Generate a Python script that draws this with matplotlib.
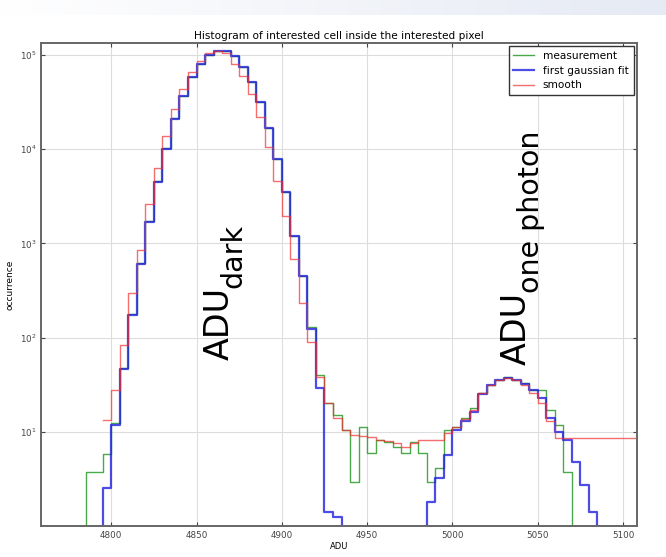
import numpy as np
import matplotlib
matplotlib.use("Agg")
import matplotlib.pyplot as plt

plt.rcParams["mathtext.fontset"] = "dejavusans"

# bin edges of the ADU histogram (5 ADU wide)
adu_edges = np.arange(4780, 5115, 5)

# counts per bin
measurement = [0, 3.75, 3.75, 5.8, 12.5, 48, 180, 620, 1750, 4600,
               10200, 21500, 37000, 59000, 80000, 100000, 110000, 112000, 98000, 74000,
               51500, 32000, 17000, 7800, 3500, 1200, 450, 130, 40, 20,
               15, 10.5, 2.9, 11.3, 6, 8.2, 7.7, 6.8, 6, 7.8,
               6, 2.9, 4.1, 10.5, 11.3, 14, 18, 26, 31.6, 35,
               38, 35, 33, 28, 28, 17, 11.8, 3.75, 0, 0,
               0, 0, 0, 0, 0, 0]
gauss_fit = [0, 0, 0, 2.5, 11.8, 46, 175, 600, 1700, 4500,
             10000, 21000, 36500, 58500, 80000, 100000, 110000, 112000, 98000, 74000,
             51500, 31600, 17000, 7800, 3500, 1200, 450, 122, 29, 1.4,
             1.25, 0, 0, 0, 0, 0, 0, 0, 0, 0,
             0, 1.8, 3.2, 5.7, 10.5, 13, 16, 25, 31, 35,
             37.5, 35, 32, 28, 23, 14, 10, 8.2, 4.8, 2.7,
             1.4, 0, 0, 0, 0, 0]
smooth = [np.nan, np.nan, np.nan, 13.4, 28, 84, 300, 860, 2600, 6400,
          13800, 26700, 43600, 66000, 87000, 105000, 110000, 106000, 80000, 60000,
          38500, 22000, 10700, 4600, 1950, 680, 235, 89, 38, 20,
          14, 10.5, 9.3, 9, 8.7, 8.2, 7.9, 7.5, 6.9, 7.5,
          8.2, 8.2, 8.2, 9.8, 11.3, 13.5, 17, 26, 31, 35,
          37, 35, 31, 26, 20, 13, 8.6, 8.6, 8.6, 8.6,
          8.6, 8.6, 8.6, 8.6, 8.6, 8.6]

fig = plt.figure(figsize=(6.66, 5.57), dpi=100)

# light band at the top of the screenshot
band = fig.add_axes([0, 0.973, 1, 0.027])
band.imshow(np.linspace(0, 1, 256).reshape(1, -1), aspect="auto",
            cmap=matplotlib.colors.LinearSegmentedColormap.from_list("b", ["#ffffff", "#e6eaf4"]))
band.axis("off")

ax = fig.add_axes([0.062, 0.056, 0.894, 0.867])
ax.set_yscale("log")


def steps(values):
    return np.append(values, values[-1])


ax.plot(adu_edges, steps(measurement), drawstyle="steps-post", color="#2a9a2a",
        lw=1.0, alpha=0.85, label="measurement")
ax.plot(adu_edges, steps(gauss_fit), drawstyle="steps-post", color="#2020e0",
        lw=1.6, alpha=0.8, label="first gaussian fit")
ax.plot(adu_edges, steps(smooth), drawstyle="steps-post", color="#f03030",
        lw=1.0, alpha=0.7, label="smooth")

ax.set_xlim(4759, 5108)
ax.set_ylim(1, 1.35e5)
ax.set_xticks([4800, 4850, 4900, 4950, 5000, 5050, 5100])
ax.set_yticks([10, 100, 1000, 10000, 100000])
ax.minorticks_off()
ax.tick_params(direction="in", top=True, right=True, labelsize=6.3, length=3, colors="#444444")
ax.grid(True, color="#dddddd", lw=0.8)
for s in ax.spines.values():
    s.set_color("#666666")
    s.set_linewidth(1.4)

ax.set_title("Histogram of interested cell inside the interested pixel", fontsize=7.6, pad=3)
ax.set_xlabel("ADU", fontsize=6, labelpad=2)
ax.set_ylabel("occurrence", fontsize=6.5, labelpad=4)

ax.legend(loc="upper right", fontsize=7.6, fancybox=False, edgecolor="#333333",
          framealpha=1, handlelength=2.0, borderpad=0.45, labelspacing=0.45,
          borderaxespad=0.3)

# big rotated labels: main text and a larger-than-usual subscript
ax.text(0.299, 0.344, "ADU", rotation=90, fontsize=24,
        ha="center", va="bottom", transform=ax.transAxes)
ax.text(0.322, 0.493, "dark", rotation=90, fontsize=20.5,
        ha="center", va="bottom", transform=ax.transAxes)
ax.text(0.797, 0.333, "ADU", rotation=90, fontsize=24,
        ha="center", va="bottom", transform=ax.transAxes)
ax.text(0.822, 0.482, "one photon", rotation=90, fontsize=20.5,
        ha="center", va="bottom", transform=ax.transAxes)

fig.savefig("out.png", dpi=100)
